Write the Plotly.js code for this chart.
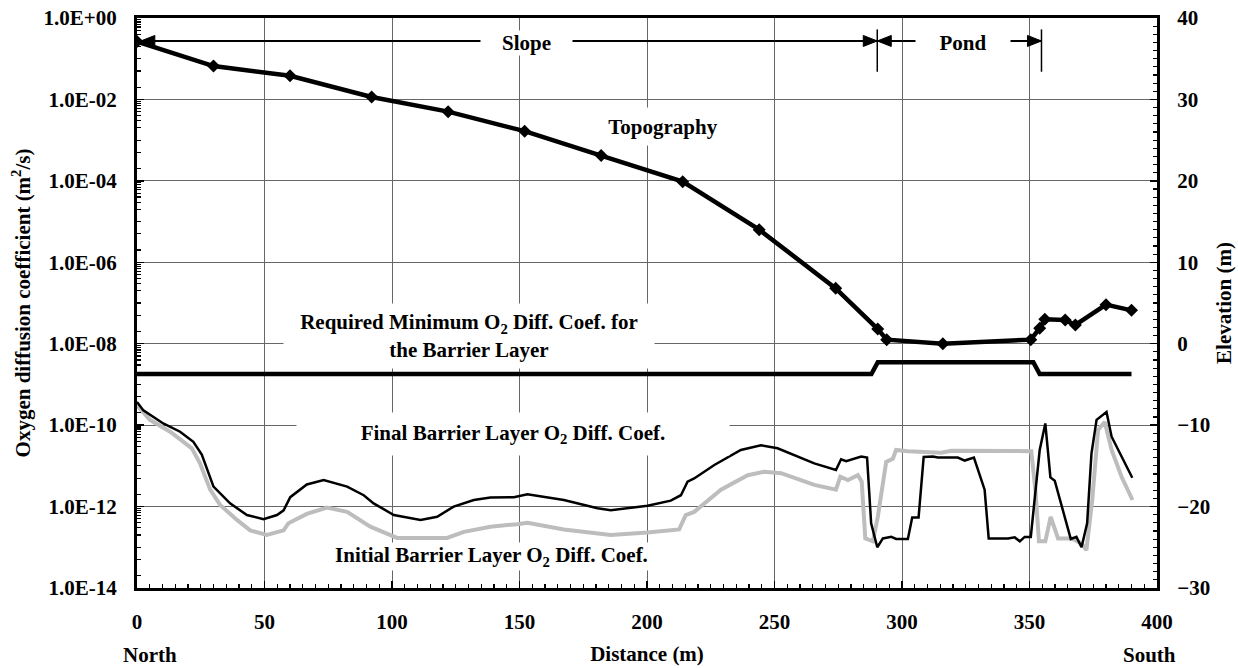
<!DOCTYPE html>
<html>
<head>
<meta charset="utf-8">
<script src="https://cdn.plot.ly/plotly-3.0.1.min.js"></script>
<style>html,body{margin:0;padding:0;background:#fff;}</style>
</head>
<body>
<div id="chart" style="width:1238px;height:668px;"></div>
<script>
// ---------- data ----------
const finalX = [0,2.5,10.3,16.9,22.1,25.4,30.0,36.5,43.1,49.6,54.9,57.5,60.1,66.6,73.2,82.4,88.9,92.8,100.7,111.2,117.7,124.2,132.1,138.6,147.8,153.1,167.4,180.6,185.8,200.2,209.3,213.3,215.9,218.5,226.4,236.8,244.7,251.2,265.6,274.1,276.1,278.1,284.0,286.3,287.9,290.3,292.5,295.8,297.7,302.3,304.0,306.5,308.5,312.1,314.1,321.9,324.6,328.2,332.4,334.0,341.6,344.2,346.2,348.1,350.5,354.0,356.2,358.2,359.9,366.2,368.4,370.4,372.6,374.3,376.3,380.2,382.2,386.1,390.3];
const finalD = [3.7e-10,2.3e-10,1.1e-10,6.9e-11,3.9e-11,1.9e-11,3.1e-12,1.2e-12,6.2e-13,4.9e-13,6.2e-13,8.1e-13,1.7e-12,3.5e-12,4.5e-12,3.1e-12,1.9e-12,1.2e-12,6.2e-13,4.7e-13,5.6e-13,1.0e-12,1.45e-12,1.66e-12,1.7e-12,2.0e-12,1.45e-12,9.1e-13,8.1e-13,1.05e-12,1.4e-12,1.9e-12,4.1e-12,4.9e-12,1.05e-11,2.45e-11,3.2e-11,2.7e-11,1.15e-11,7.9e-12,1.45e-11,1.3e-11,1.7e-11,1.6e-11,3.9e-13,1.0e-13,1.65e-13,1.8e-13,1.6e-13,1.6e-13,5.4e-13,5.4e-13,1.65e-11,1.7e-11,1.6e-11,1.6e-11,1.35e-11,1.6e-11,2.6e-12,1.65e-13,1.65e-13,1.75e-13,1.4e-13,1.8e-13,1.8e-13,2.45e-11,1.1e-10,5.2e-12,4.3e-12,1.6e-13,1.8e-13,1.0e-13,3.9e-13,2.0e-11,1.35e-10,2.1e-10,5.2e-11,1.65e-11,5.1e-12];

const initX = [0,5.1,13.0,21.5,24.7,28.7,32.6,39.2,44.4,50.9,57.5,59.4,66.6,74.5,82.4,91.5,102.0,121.6,128.2,138.6,149.1,153.1,167.4,185.8,200.2,212.6,215.2,218.5,229.0,239.5,246.0,252.6,265.6,274.1,275.8,278.8,282.7,284.2,285.6,288.6,290.5,293.8,296.4,297.7,302.3,315.4,319.3,350.7,352.3,353.7,356.2,358.3,361.2,366.5,370.4,372.3,374.6,376.9,379.5,382.2,386.1,390.4];
const initD = [3.1e-10,1.35e-10,6.9e-11,2.7e-11,1.15e-11,2.6e-12,1.1e-12,4.7e-13,2.6e-13,2.0e-13,2.6e-13,3.9e-13,6.6e-13,9.5e-13,7.4e-13,3.2e-13,1.7e-13,1.7e-13,2.4e-13,3.2e-13,3.7e-13,4.0e-13,2.75e-13,2.0e-13,2.3e-13,2.75e-13,6.2e-13,7.4e-13,2.6e-12,5.9e-12,7.2e-12,6.6e-12,3.4e-12,2.6e-12,5.4e-12,4.5e-12,5.9e-12,4.1e-12,1.65e-13,1.4e-13,5.6e-13,1.25e-11,1.5e-11,2.45e-11,2.3e-11,2.1e-11,2.35e-11,2.3e-11,2.6e-12,1.4e-13,1.4e-13,5.6e-13,1.65e-13,1.65e-13,1.25e-13,8.5e-14,1.45e-12,7.6e-11,1.2e-10,2.45e-11,5.4e-12,1.45e-12];

const reqX = [0,288,290.5,351.5,354,390];
const reqD = [1.8e-9,1.8e-9,3.5e-9,3.5e-9,1.8e-9,1.8e-9];

const topoX = [0,30,60,92,122,152,182,214,244,274,290.5,294,316,350.5,354,356,364,368,380,390];
const topoElev = [37.1,34.1,32.9,30.3,28.5,26.1,23.1,19.9,14.0,6.8,1.8,0.5,0.0,0.5,1.9,3.0,2.9,2.3,4.8,4.1];

const logTickVals = [1e0,1e-2,1e-4,1e-6,1e-8,1e-10,1e-12,1e-14];
const logTickText = ['1.0E+00','1.0E-02','1.0E-04','1.0E-06','1.0E-08','1.0E-10','1.0E-12','1.0E-14'];

// section boundaries (m)
const slopeStart = 0, pondStart = 290.3, pondEnd = 354.7;

// ---------- styling ----------
const FONT = 'Liberation Serif';
const TXT = {family: FONT, size: 21, color: '#000', weight: 'bold'};
const minorLog = [];
for (let e = 0; e > -14; e -= 2) {
  for (let m = 1; m <= 9; m++) minorLog.push(m * Math.pow(10, e - 1));
  minorLog.push(2 * Math.pow(10, e - 2), 5 * Math.pow(10, e - 2));
}

const traces = [
  {x: initX, y: initD, type: 'scatter', mode: 'lines', name: 'Initial Barrier Layer O2 Diff. Coef.',
   line: {color: '#bdbdbd', width: 4}, yaxis: 'y'},
  {x: finalX, y: finalD, type: 'scatter', mode: 'lines', name: 'Final Barrier Layer O2 Diff. Coef.',
   line: {color: '#000', width: 2.5}, yaxis: 'y'},
  {x: reqX, y: reqD, type: 'scatter', mode: 'lines', name: 'Required Minimum',
   line: {color: '#000', width: 4.5}, yaxis: 'y'},
  {x: topoX, y: topoElev, type: 'scatter', mode: 'lines+markers', name: 'Topography',
   line: {color: '#000', width: 4.5}, marker: {symbol: 'diamond', size: 10, color: '#000'}, yaxis: 'y2'}
];

const arrowY = 37.18;
const labelY = 36.93;
const boxAnn = (x, y, text, w, h) => ({x, y, xref: 'x', yref: 'y2', text, showarrow: false,
  bgcolor: '#fff', width: w, height: h, borderpad: 0, font: TXT});

const annotations = [
  boxAnn(152.6, labelY, 'Slope', 91, 24),
  boxAnn(324.0, labelY, 'Pond', 94, 24),
  boxAnn(206.2, 26.68, 'Topography', 130, 37),
  boxAnn(130.0, 0.95, 'Required Minimum O<sub>2</sub> Diff. Coef. for<br>the Barrier Layer', 370, 64),
  boxAnn(147.3, -11.09, 'Final Barrier Layer O<sub>2</sub> Diff. Coef.', 432, 42),
  boxAnn(139.0, -26.13, 'Initial Barrier Layer O<sub>2</sub> Diff. Coef.', 345, 27),
  {x: 5.1, y: -0.1175, xref: 'x', yref: 'paper', text: 'North', showarrow: false, yanchor: 'middle', font: TXT},
  {x: 397, y: -0.1175, xref: 'x', yref: 'paper', text: 'South', showarrow: false, yanchor: 'middle', font: TXT}
];

// arrow heads as pixel-sized triangles anchored at data points
const headLeft = {type: 'path', xref: 'x', yref: 'y2', xsizemode: 'pixel', ysizemode: 'pixel',
  path: 'M0,0 L14,5.5 L14,-5.5 Z', fillcolor: '#000', line: {color: '#000', width: 1}};
const headRight = {type: 'path', xref: 'x', yref: 'y2', xsizemode: 'pixel', ysizemode: 'pixel',
  path: 'M0,0 L-14,5.5 L-14,-5.5 Z', fillcolor: '#000', line: {color: '#000', width: 1}};

const shapes = [
  {type: 'line', xref: 'x', yref: 'y2', x0: slopeStart, x1: pondEnd, y0: arrowY, y1: arrowY, line: {color: '#000', width: 2}},
  Object.assign({}, headLeft, {xanchor: slopeStart + 1.5, yanchor: arrowY}),
  Object.assign({}, headRight, {xanchor: pondStart, yanchor: arrowY}),
  Object.assign({}, headLeft, {xanchor: pondStart, yanchor: arrowY}),
  Object.assign({}, headRight, {xanchor: pondEnd, yanchor: arrowY}),
  {type: 'line', xref: 'x', yref: 'y2', x0: pondStart, x1: pondStart, y0: 33.4, y1: 38.6, line: {color: '#000', width: 1.5}},
  {type: 'line', xref: 'x', yref: 'y2', x0: pondEnd, x1: pondEnd, y0: 33.4, y1: 38.6, line: {color: '#000', width: 1.5}}
];

const layout = {
  width: 1238, height: 668,
  margin: {l: 137, r: 81, t: 18, b: 80, pad: 0},
  paper_bgcolor: '#fff', plot_bgcolor: '#fff',
  font: TXT,
  showlegend: false,
  xaxis: {
    range: [0, 400], tick0: 0, dtick: 50, ticks: 'inside', ticklen: 7, tickwidth: 1.5, tickcolor: '#000',
    showline: true, linewidth: 3, linecolor: '#000', mirror: true,
    showgrid: true, gridcolor: '#666', gridwidth: 1, zeroline: false,
    ticklabelstandoff: 13, tickfont: TXT,
    minor: {dtick: 5, ticks: 'inside', ticklen: 4, tickwidth: 1.2, tickcolor: '#000', showgrid: false},
    title: {text: 'Distance (m)', standoff: 14, font: TXT}
  },
  yaxis: {
    type: 'log', range: [-14, 0], tickmode: 'array', tickvals: logTickVals, ticktext: logTickText,
    ticks: 'inside', ticklen: 7, tickwidth: 1.5, tickcolor: '#000',
    showline: true, linewidth: 3, linecolor: '#000',
    showgrid: true, gridcolor: '#666', gridwidth: 1, zeroline: false,
    ticklabelstandoff: 13, tickfont: TXT,
    minor: {tickmode: 'array', tickvals: minorLog, ticks: 'inside', ticklen: 4, tickwidth: 1.2, tickcolor: '#000', showgrid: false},
    title: {text: 'Oxygen diffusion coefficient (m<sup>2</sup>/s)', standoff: 8, font: TXT}
  },
  yaxis2: {
    overlaying: 'y', side: 'right', range: [-30, 40], tick0: 0, dtick: 10,
    ticks: 'inside', ticklen: 7, tickwidth: 1.5, tickcolor: '#000',
    showline: true, linewidth: 3, linecolor: '#000',
    showgrid: false, zeroline: false,
    ticklabelstandoff: 13, tickfont: TXT,
    minor: {dtick: 1, ticks: 'inside', ticklen: 4, tickwidth: 1.2, tickcolor: '#000', showgrid: false},
    title: {text: 'Elevation (m)', standoff: 8, font: TXT}
  },
  annotations, shapes
};

Plotly.newPlot('chart', traces, layout, {displayModeBar: false, staticPlot: true});
</script>
</body>
</html>
